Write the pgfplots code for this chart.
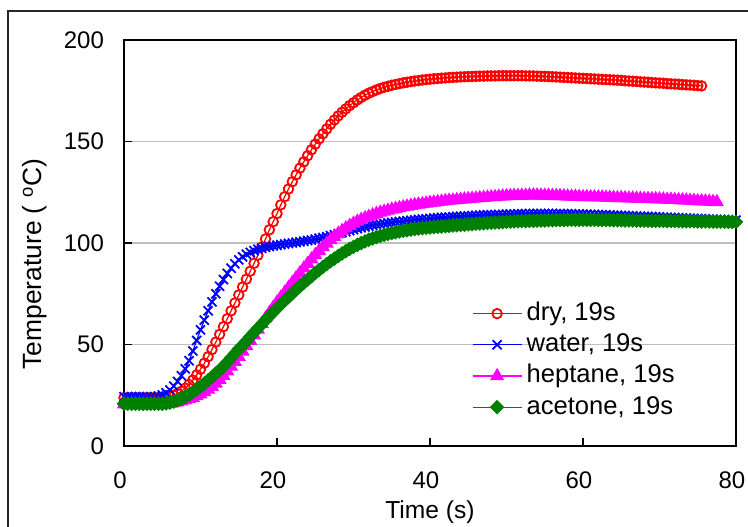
\documentclass[border=0pt]{standalone}
\usepackage{fontspec}
\setmainfont{Liberation Sans}
\usepackage{pgfplots}
\usepackage{pgfplotstable}
\pgfplotsset{compat=1.18}
\definecolor{xlred}{RGB}{255,0,0}
\definecolor{xlblue}{RGB}{0,0,255}
\definecolor{xlmag}{RGB}{255,0,255}
\definecolor{xlgreen}{RGB}{0,128,0}
\pgfplotstableread{
t dry water hept acet
0 23.8 24.3 20.6 20.8
0.5 23.8 24.3 20.6 20.8
1 23.8 24.3 20.6 20.8
1.5 23.8 24.3 20.6 20.8
2 23.8 24.3 20.6 20.8
2.5 23.8 24.3 20.6 20.8
3 23.8 24.3 20.6 20.8
3.5 23.8 24.3 20.6 20.8
4 23.8 24.3 20.6 20.8
4.5 23.8 24.6 20.6 20.8
5 23.8 25.2 20.6 20.8
5.5 24.0 26.2 20.7 21.0
6 24.4 27.6 20.9 21.4
6.5 25.0 29.5 21.2 21.9
7 25.8 31.8 21.5 22.5
7.5 27.0 34.6 22.0 23.3
8 28.5 38.0 22.5 24.2
8.5 30.3 42.0 23.1 25.3
9 32.5 46.8 23.8 26.5
9.5 35.0 52.0 24.6 27.9
10 37.8 57.2 25.5 29.3
10.5 40.8 62.0 26.6 30.8
11 44.0 66.6 27.8 32.4
11.5 47.5 71.0 29.2 34.0
12 51.2 75.0 30.8 35.7
12.5 55.0 78.7 32.6 37.4
13 58.8 82.0 34.6 39.3
13.5 62.7 85.0 36.8 41.3
14 66.6 87.6 39.1 43.4
14.5 70.5 89.8 41.5 45.6
15 74.4 91.7 44.0 47.8
15.5 78.3 93.2 46.6 49.6
16 82.2 94.4 49.2 51.7
16.5 86.1 95.4 51.9 53.8
17 90.0 96.2 54.6 55.9
17.5 94.0 96.9 57.4 58.0
18 98.0 97.4 60.2 60.0
18.5 102.0 97.9 62.9 62.0
19 106.5 98.3 65.6 64.0
19.5 110.5 98.6 68.2 66.0
20 114.5 98.9 70.7 67.9
20.5 118.8 99.2 73.2 69.8
21 122.8 99.5 75.6 71.6
21.5 126.6 99.8 78.0 73.4
22 130.2 100.0 80.4 75.2
22.5 133.6 100.3 82.8 77.0
23 136.9 100.6 85.2 78.7
23.5 140.0 100.9 87.5 80.4
24 143.0 101.2 89.8 82.0
24.5 145.9 101.5 92.0 83.6
25 148.7 101.9 94.1 85.2
25.5 151.3 102.3 96.1 86.7
26 153.8 102.7 98.0 88.2
26.5 156.2 103.1 99.8 89.6
27 158.5 103.6 101.5 91.0
27.5 160.6 104.1 103.1 92.3
28 162.6 104.6 104.6 93.6
28.5 164.4 105.1 106.0 94.8
29 166.1 105.6 107.3 96.0
29.5 167.7 106.1 108.5 97.1
30 169.1 106.6 109.6 98.1
30.5 170.5 107.1 110.6 99.1
31 171.7 107.5 111.5 100.0
31.5 172.8 107.9 112.3 100.8
32 173.8 108.3 113.0 101.6
32.5 174.6 108.7 113.7 102.3
33 175.4 109.0 114.4 102.9
33.5 176.1 109.3 115.0 103.5
34 176.7 109.6 115.5 104.0
34.5 177.2 109.9 116.0 104.5
35 177.7 110.1 116.5 104.9
35.5 178.1 110.4 116.9 105.3
36 178.5 110.6 117.3 105.7
36.5 178.9 110.8 117.7 106.0
37 179.2 111.0 118.0 106.3
37.5 179.5 111.2 118.4 106.6
38 179.8 111.4 118.7 106.9
38.5 180.0 111.6 119.0 107.1
39 180.3 111.8 119.2 107.3
39.5 180.5 111.9 119.5 107.5
40 180.7 112.1 119.8 107.6
40.5 180.9 112.3 120.0 107.8
41 181.0 112.4 120.2 108.0
41.5 181.2 112.6 120.4 108.1
42 181.3 112.7 120.7 108.3
42.5 181.5 112.8 120.9 108.4
43 181.6 113.0 121.0 108.6
43.5 181.7 113.1 121.2 108.7
44 181.8 113.2 121.4 108.9
44.5 181.9 113.3 121.6 109.0
45 182.0 113.4 121.7 109.2
45.5 182.0 113.5 121.9 109.3
46 182.1 113.6 122.0 109.5
46.5 182.2 113.7 122.2 109.6
47 182.2 113.8 122.3 109.7
47.5 182.3 113.9 122.5 109.9
48 182.3 113.9 122.6 110.0
48.5 182.3 114.0 122.7 110.1
49 182.4 114.1 122.9 110.2
49.5 182.4 114.1 123.0 110.3
50 182.4 114.2 123.1 110.4
50.5 182.4 114.3 123.2 110.5
51 182.4 114.3 123.3 110.6
51.5 182.4 114.4 123.3 110.7
52 182.4 114.4 123.4 110.8
52.5 182.3 114.4 123.4 110.8
53 182.3 114.5 123.5 110.9
53.5 182.3 114.5 123.5 110.9
54 182.2 114.5 123.5 111.0
54.5 182.1 114.5 123.4 111.1
55 182.1 114.5 123.4 111.1
55.5 182.0 114.5 123.4 111.2
56 181.9 114.5 123.3 111.2
56.5 181.8 114.5 123.2 111.3
57 181.7 114.5 123.2 111.3
57.5 181.6 114.4 123.1 111.3
58 181.5 114.4 123.0 111.4
58.5 181.4 114.4 122.9 111.4
59 181.3 114.3 122.9 111.4
59.5 181.2 114.3 122.8 111.4
60 181.1 114.2 122.7 111.4
60.5 181.0 114.2 122.7 111.4
61 180.9 114.1 122.6 111.4
61.5 180.8 114.1 122.6 111.4
62 180.7 114.0 122.5 111.3
62.5 180.6 113.9 122.5 111.3
63 180.5 113.9 122.4 111.3
63.5 180.4 113.8 122.4 111.3
64 180.3 113.7 122.3 111.2
64.5 180.2 113.7 122.2 111.2
65 180.1 113.6 122.2 111.2
65.5 179.9 113.5 122.1 111.1
66 179.8 113.4 122.0 111.1
66.5 179.7 113.4 122.0 111.1
67 179.6 113.3 121.9 111.0
67.5 179.4 113.2 121.9 111.0
68 179.3 113.1 121.8 111.0
68.5 179.2 113.1 121.8 111.0
69 179.0 113.0 121.7 110.9
69.5 178.9 112.9 121.7 110.9
70 178.8 112.8 121.6 110.9
70.5 178.7 112.7 121.5 110.9
71 178.5 112.7 121.4 110.8
71.5 178.4 112.6 121.4 110.8
72 178.3 112.5 121.3 110.8
72.5 178.2 112.4 121.2 110.8
73 178.0 112.4 121.1 110.7
73.5 177.9 112.3 121.0 110.7
74 177.8 112.2 120.9 110.7
74.5 177.7 112.1 120.8 110.7
75 177.5 112.0 120.7 110.6
75.5 177.4 112.0 120.6 110.6
76 nan 111.9 120.5 110.6
76.5 nan 111.8 120.4 110.6
77 nan 111.7 120.3 110.5
77.5 nan 111.6 120.2 110.5
78 nan 111.6 nan 110.5
78.5 nan 111.5 nan 110.5
79 nan 111.4 nan 110.4
79.5 nan 111.4 nan 110.4
80 nan 111.3 nan 110.4
}\datatable

\begin{document}
\begin{tikzpicture}
\useasboundingbox (-62pt,-40pt) rectangle (312pt,223pt);
\draw[line width=0.6pt, black!85] (-58pt,-80pt) rectangle (360pt,217.5pt);
\begin{axis}[
  scale only axis, width=306pt, height=203pt,
  at={(0pt,0pt)}, anchor=south west,
  xmin=0, xmax=80, ymin=0, ymax=200,
  xtick={0,20,40,60,80}, ytick={0,50,100,150,200},
  tick align=inside, xtick pos=bottom, ytick pos=left,
  major tick length=4pt,
  tick style={black, line width=0.8pt},
  ymajorgrids, grid style={line width=0.8pt, black!25},
  axis line style={line width=1pt},
  font=\fontsize{12}{14}\selectfont,
  /pgf/number format/assume math mode=true,
  xticklabel style={yshift=-9.5pt, xshift=-2pt},
  yticklabel style={xshift=-6.5pt},
  xlabel={Time (s)},
  xlabel style={at={(axis description cs:0.5,-0.1626)}, anchor=center, font=\fontsize{12.3}{14}\selectfont},
  legend style={draw=none, fill=none, at={(0.568,0.362)}, anchor=north west,
    inner sep=0pt, row sep=1.4pt,
    nodes={inner xsep=2.2pt, inner ysep=1pt, text height=9.5pt, text depth=2.7pt},
    font=\fontsize{12.8}{14}\selectfont},
  legend cell align=left,
  legend image code/.code={\draw[mark repeat=2,mark phase=2,#1] plot coordinates {(0pt,0pt) (12.25pt,0pt) (24.5pt,0pt)};},
  clip=false,
]
\addplot[xlred, line width=0.6pt, mark=o, mark size=2.4pt, mark options={line width=0.9pt}] table[x=t,y=dry]{\datatable};
\addlegendentry{dry, 19s}
\addplot[xlblue, line width=0.6pt, mark=x, mark size=3.2pt, mark options={line width=0.9pt}] table[x=t,y=water]{\datatable};
\addlegendentry{water, 19s}
\addplot[xlmag, line width=0.6pt, mark=triangle*, mark size=3.5pt] table[x=t,y=hept]{\datatable};
\addlegendentry{heptane, 19s}
\addplot[xlgreen, line width=0.6pt, mark=square*, mark size=2.3pt, mark options={rotate=45}] table[x=t,y=acet]{\datatable};
\addlegendentry{acetone, 19s}
\node[rotate=90, anchor=center, font=\fontsize{13.2}{15}\selectfont] at (axis description cs:-0.146,0.448) {Temperature ( \textsuperscript{o}C)};
\end{axis}
\end{tikzpicture}
\end{document}
